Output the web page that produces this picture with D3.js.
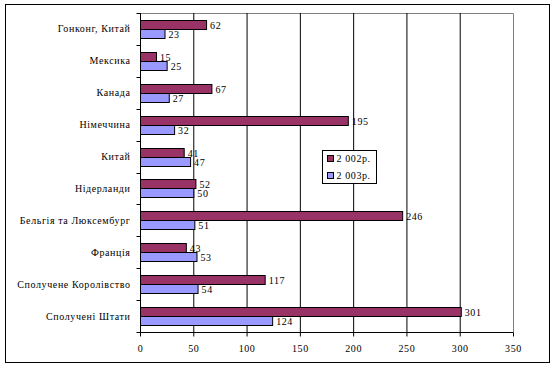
<!DOCTYPE html>
<html>
<head>
  <script src="https://cdn.jsdelivr.net/npm/d3@7"></script>
  <style>
    body { margin: 0; background: #fff; }
    text { font-family: "Liberation Serif", "Times New Roman", serif; font-size: 10px; letter-spacing: 0.6px; fill: #000; }
  </style>
</head>
<body>
  <svg id="chart" width="555" height="368"></svg>
  <script>
    const countries = ["Гонконг, Китай", "Мексика", "Канада", "Німеччина", "Китай", "Нідерланди",
      "Бельгія та Люксембург", "Франція", "Сполучене Королівство", "Сполучені Штати"];
    const values2002 = [62, 15, 67, 195, 41, 52, 246, 43, 117, 301];
    const values2003 = [23, 25, 27, 32, 47, 50, 51, 53, 54, 124];
    const seriesNames = ["2 002р.", "2 003р."];
    const seriesColors = ["#993366", "#9999ff"];
    const xTicks = [0, 50, 100, 150, 200, 250, 300, 350];

    const svg = d3.select("#chart");

    // outer frame
    svg.append("rect")
      .attr("x", 5.5).attr("y", 4.5)
      .attr("width", 544).attr("height", 358)
      .attr("fill", "#fff").attr("stroke", "#000");

    const pLeft = 140, pRight = 513, pTop = 13, pBottom = 332;

    const x = d3.scaleLinear().domain([0, 350]).range([pLeft, pRight]);
    const y = d3.scaleBand().domain(countries).range([pTop, pBottom]);
    const inner = d3.scaleBand().domain([0, 1]).range([0, 18]);

    // plot area borders (top/right grey)
    svg.append("path")
      .attr("d", `M${pLeft},${pTop + 0.5}H${pRight + 0.5}V${pBottom}`)
      .attr("fill", "none").attr("stroke", "#808080");

    // vertical gridlines
    svg.append("g")
      .selectAll("line")
      .data(xTicks.filter(d => d > 0 && d < 350))
      .join("line")
      .attr("x1", d => x(d) + 0.5).attr("x2", d => x(d) + 0.5)
      .attr("y1", pTop).attr("y2", pBottom)
      .attr("stroke", "#000");

    // bars
    const series = [values2002, values2003];
    const gBars = svg.append("g");
    series.forEach((vals, s) => {
      gBars.selectAll(null)
        .data(countries)
        .join("rect")
        .attr("x", x(0) + 0.5)
        .attr("y", d => Math.round(y(d) + (y.bandwidth() - 18) / 2 + inner(s)) + 0.5)
        .attr("width", (d, i) => x(vals[i]) - x(0))
        .attr("height", inner.bandwidth())
        .attr("fill", seriesColors[s])
        .attr("stroke", "#000");

      gBars.selectAll(null)
        .data(countries)
        .join("text")
        .attr("x", (d, i) => x(vals[i]) + 4)
        .attr("y", d => y(d) + (y.bandwidth() - 18) / 2 + inner(s) + inner.bandwidth() / 2 + 1)
        .attr("dy", "0.35em")
        .text((d, i) => vals[i]);
    });

    // y axis
    const yAxis = svg.append("g")
      .attr("transform", `translate(${pLeft + 0.5},0)`);
    yAxis.append("line").attr("y1", pTop).attr("y2", pBottom).attr("stroke", "#000");
    yAxis.selectAll(".tk")
      .data(d3.range(countries.length + 1))
      .join("line")
      .attr("x1", -4).attr("x2", 0)
      .attr("y1", i => Math.round(pTop + i * y.step()) + 0.5)
      .attr("y2", i => Math.round(pTop + i * y.step()) + 0.5)
      .attr("stroke", "#000");
    yAxis.selectAll("text")
      .data(countries)
      .join("text")
      .attr("x", -10)
      .attr("y", d => y(d) + y.bandwidth() / 2)
      .attr("dy", "0.35em")
      .attr("text-anchor", "end")
      .text(d => d);

    // x axis
    const xAxis = svg.append("g")
      .attr("transform", `translate(0,${pBottom + 0.5})`)
      .call(d3.axisBottom(x).tickValues(xTicks).tickSize(4).tickPadding(8))
      .call(g => g.select(".domain").attr("d", `M${pLeft},0H${pRight + 0.5}`));
    xAxis.selectAll("text").style("font-family", "Liberation Serif").style("font-size", "10px");

    // legend
    const legend = svg.append("g").attr("transform", "translate(322.5,150.5)");
    legend.append("rect").attr("width", 54).attr("height", 33).attr("fill", "#fff").attr("stroke", "#000");
    seriesNames.forEach((name, s) => {
      legend.append("rect")
        .attr("x", 5).attr("y", 5 + s * 17)
        .attr("width", 6).attr("height", 6)
        .attr("fill", seriesColors[s]).attr("stroke", "#000");
      legend.append("text")
        .attr("x", 14).attr("y", 8 + s * 17)
        .attr("dy", "0.35em")
        .text(name);
    });
  </script>
</body>
</html>
